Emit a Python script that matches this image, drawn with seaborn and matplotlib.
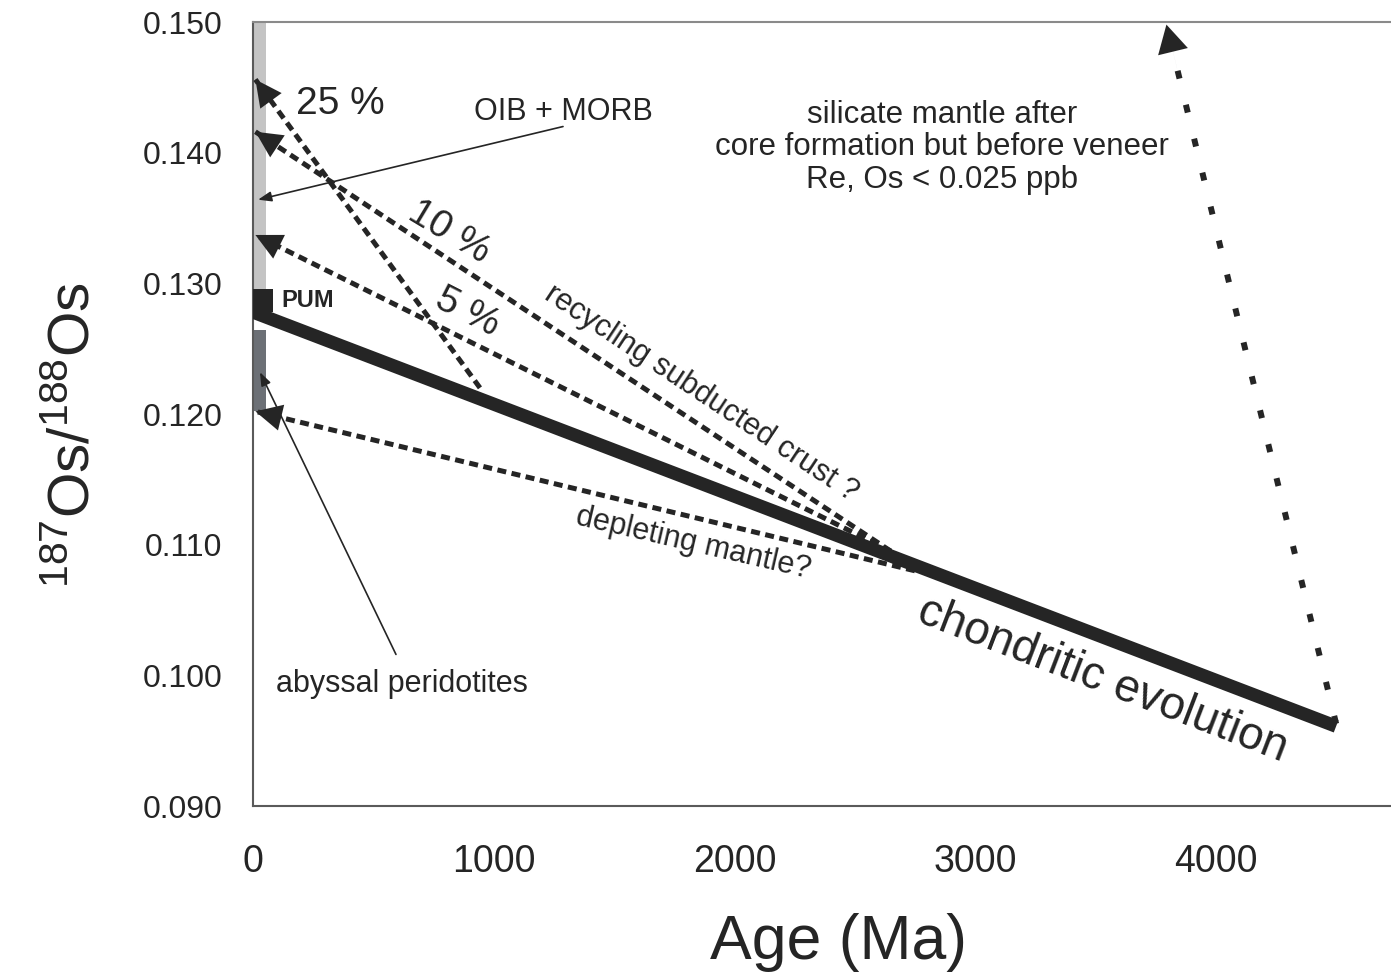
import numpy as np
import pandas as pd
import matplotlib
matplotlib.use("Agg")
import matplotlib.pyplot as plt
from matplotlib.ticker import MultipleLocator, FormatStrFormatter
import seaborn as sns

# Chondritic reference evolution: age (Ma) and 187Os/188Os
chondrite_age = [0, 4500]
chondrite_ratio = [0.1278, 0.0961]

# Present-day reservoir ranges drawn along the y axis
oib_morb_range = [0.1296, 0.1500]
pum_range = [0.1278, 0.1296]
abyssal_range = [0.1202, 0.1264]

# Model trajectories: start on chondritic curve -> present-day ratio
traj_labels = ["25 %", "10 %", "5 %", "depleting mantle?"]
traj_start_age = [943, 2650, 2650, 2750]
traj_start_ratio = [0.1220, 0.1095, 0.1095, 0.1080]
traj_end_age = [10, 10, 10, 10]
traj_end_ratio = [0.1456, 0.1416, 0.1337, 0.1202]

# Silicate mantle before the late veneer
veneer_age = [4500, 3795]
veneer_ratio = [0.0963, 0.1498]

# Pointer arrows for the reservoir labels
pointer_labels = ["OIB + MORB", "abyssal peridotites"]
pointer_tail_age = [1288, 594]
pointer_tail_ratio = [0.1420, 0.1016]
pointer_tip_age = [21, 29]
pointer_tip_ratio = [0.1364, 0.1232]

x_ticks = [0, 1000, 2000, 3000, 4000]
y_ticks = [0.090, 0.100, 0.110, 0.120, 0.130, 0.140, 0.150]

sns.set_style("white")
plt.rcParams["font.family"] = ["Liberation Sans", "DejaVu Sans"]
plt.rcParams["mathtext.fontset"] = "custom"
plt.rcParams["mathtext.rm"] = "Liberation Sans"
plt.rcParams["mathtext.default"] = "regular"

INK = "#252525"
FW, FH = 1391, 973
fig = plt.figure(figsize=(FW / 100, FH / 100), dpi=100)
ax = fig.add_axes([253 / FW, 167 / FH, 1138 / FW, 784 / FH])
ax.set_xlim(0, 4728)
ax.set_ylim(0.090, 0.150)

# reservoir bars
ax.bar(0, oib_morb_range[1] - oib_morb_range[0], bottom=oib_morb_range[0],
       width=55, align="edge", color="#c4c4c4", linewidth=0, zorder=1)
ax.bar(0, abyssal_range[1] - abyssal_range[0], bottom=abyssal_range[0],
       width=55, align="edge", color="#6c7076", linewidth=0, zorder=1)
ax.bar(0, pum_range[1] - pum_range[0], bottom=pum_range[0],
       width=85, align="edge", color=INK, linewidth=0, zorder=3)

# chondritic evolution line
chon = pd.DataFrame({"age": chondrite_age, "ratio": chondrite_ratio})
sns.lineplot(data=chon, x="age", y="ratio", ax=ax, color=INK, linewidth=9.5,
             solid_capstyle="butt", zorder=3)


def head(tip_xy, tail_xy, length, halfwidth, scale):
    """Filled arrowhead at tip_xy pointing away from tail_xy."""
    p_tip = ax.transData.transform(tip_xy)
    p_tail = ax.transData.transform(tail_xy)
    d = p_tail - p_tip
    d = d / np.hypot(*d)
    off = d * 45 * 72 / 100
    ax.annotate("", xy=tip_xy, xytext=(off[0], off[1]), textcoords="offset points",
                arrowprops=dict(arrowstyle=f"-|>,head_length={length},head_width={halfwidth}",
                                mutation_scale=scale, color=INK, lw=0.01,
                                shrinkA=0, shrinkB=0), zorder=5)


# dashed model trajectories with arrowheads
for sa, sr, ea, er in zip(traj_start_age, traj_start_ratio, traj_end_age, traj_end_ratio):
    ax.plot([sa, ea], [sr, er], color=INK, lw=3.6, linestyle=(0, (1.8, 1.1)),
            dash_capstyle="butt", zorder=4)
    head((ea, er), (sa, sr), 1.0, 0.5, 19)

# silicate mantle trajectory (sparse dashes)
ax.plot(veneer_age, veneer_ratio, color=INK, lw=4.3, linestyle=(0, (1.35, 4.5)),
        dash_capstyle="butt", zorder=4)
head((veneer_age[1], veneer_ratio[1]), (veneer_age[0], veneer_ratio[0]), 1.0, 0.55, 20)

# thin pointer arrows
for ta, tr, pa, pr in zip(pointer_tail_age, pointer_tail_ratio, pointer_tip_age, pointer_tip_ratio):
    ax.annotate("", xy=(pa, pr), xytext=(ta, tr),
                arrowprops=dict(arrowstyle="-|>,head_length=0.8,head_width=0.3",
                                mutation_scale=10, color=INK, lw=1.2,
                                shrinkA=0, shrinkB=0), zorder=5)

# labels
txt = dict(color=INK, ha="center", va="center")
ax.text(361, 0.1437, "25 %", fontsize=28, **txt)
ax.text(815, 0.1339, "10 %", fontsize=28, rotation=-31, rotation_mode="anchor", **txt)
ax.text(891, 0.1278, "5 %", fontsize=28, rotation=-27, rotation_mode="anchor", **txt)
ax.text(1861, 0.1216, "recycling subducted crust ?", fontsize=22, rotation=-33.5,
        rotation_mode="anchor", **txt)
ax.text(1828, 0.1101, traj_labels[3], fontsize=22, rotation=-13,
        rotation_mode="anchor", **txt)
ax.text(3531, 0.0996, "chondritic evolution", fontsize=33, rotation=-21,
        rotation_mode="anchor", **txt)
ax.text(2862, 0.1404, "silicate mantle after\ncore formation but before veneer\nRe, Os < 0.025 ppb",
        fontsize=22.5, linespacing=1.12, **txt)
ax.text(1288, 0.1431, pointer_labels[0], fontsize=22, **txt)
ax.text(619, 0.0993, pointer_labels[1], fontsize=22, **txt)
ax.text(228, 0.1287, "PUM", fontsize=17, fontweight="bold", **txt)

# axes styling
for side in ["left", "bottom", "top"]:
    ax.spines[side].set_color("#5a5a5a")
    ax.spines[side].set_linewidth(1.5)
ax.spines["top"].set_color("#8a8a8a")
ax.spines["right"].set_visible(False)

ax.set_xticks(x_ticks)
ax.xaxis.set_minor_locator(MultipleLocator(100))
ax.set_yticks(y_ticks)
ax.yaxis.set_minor_locator(MultipleLocator(0.002))
ax.yaxis.set_major_formatter(FormatStrFormatter("%.3f"))
ax.tick_params(axis="x", which="major", direction="in", length=8, width=1,
               color="#6a6a6a", pad=27, labelsize=27, labelcolor=INK)
ax.tick_params(axis="x", which="minor", direction="in", length=5, width=1, color="#6a6a6a")
ax.tick_params(axis="y", which="both", direction="in", length=6, width=1,
               color="#6a6a6a", pad=22, labelsize=23, labelcolor=INK)

ax.set_xlabel("Age (Ma)", fontsize=45, color=INK)
ax.xaxis.set_label_coords((838 - 253) / 1138, (806 - 942) / 784)
ax.xaxis.label.set_va("center")
ax.set_ylabel(r"$^{187}$Os/$^{188}$Os", fontsize=42, color=INK)
ax.yaxis.set_label_coords((74 - 253) / 1138, (806 - 435) / 784)
ax.yaxis.label.set_va("center")

fig.savefig("out.png", dpi=100, facecolor="white")
